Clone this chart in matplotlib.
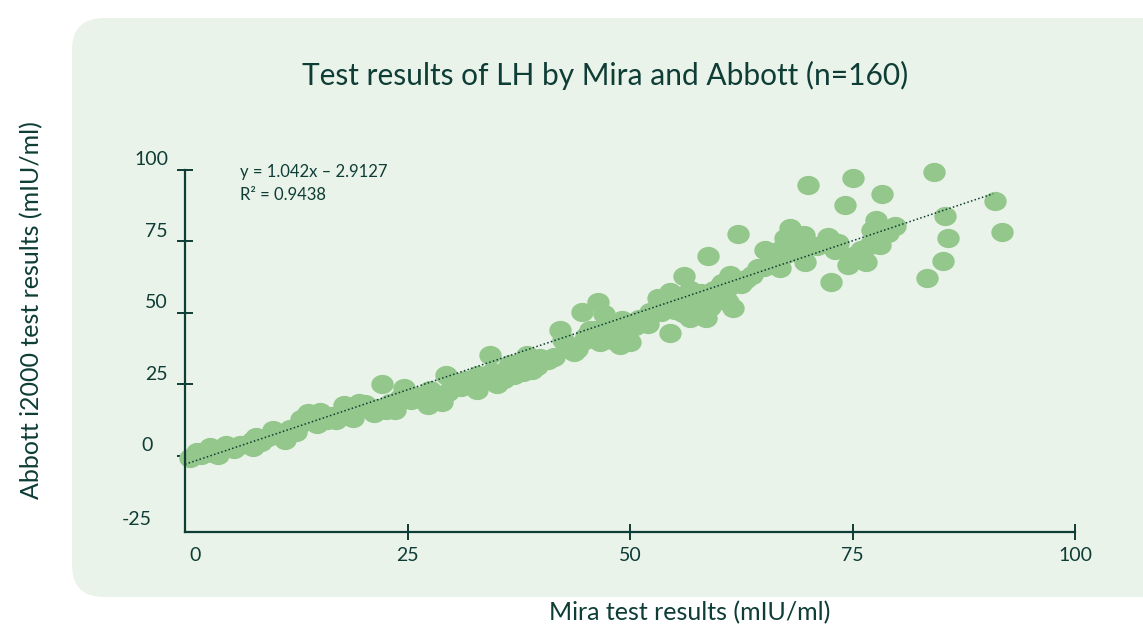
import numpy as np
import matplotlib.pyplot as plt
from matplotlib.patches import FancyBboxPatch
from matplotlib.path import Path
from matplotlib.transforms import IdentityTransform

# Mira vs Abbott LH results (n=160)
mira = [0.6, 1.3, 2.8, 3.7, 4.6, 6.2, 7.5, 7.6, 9.3, 9.9, 11.2, 12.5, 12.9, 13.8, 14.3,
        15.2, 16.0, 17.0, 17.9, 18.9, 19.6, 20.8, 21.6, 22.1, 22.6, 23.6, 24.2, 24.6, 25.4,
        27.3, 27.5, 28.9, 29.3, 30.0, 30.7, 31.6, 32.8, 32.9, 34.3, 34.5, 35.1, 36.1, 37.0,
        37.6, 38.4, 39.0, 39.9, 40.8, 42.1, 43.0, 43.7, 44.6, 44.9, 45.5, 46.4, 46.6, 47.1,
        47.8, 48.9, 49.1, 50.0, 50.6, 52.2, 53.1, 54.5, 54.5, 55.1, 56.1, 55.6, 56.7, 56.7,
        57.4, 57.9, 58.8, 58.8, 58.5, 59.4, 59.7, 60.3, 61.2, 61.6, 62.1, 63.7, 64.4, 65.2,
        66.9, 66.9, 67.4, 68.0, 69.1, 69.7, 70.0, 69.6, 72.2, 72.6, 73.4, 74.2, 74.5, 75.1,
        75.6, 76.5, 77.0, 77.2, 77.6, 78.1, 78.3, 79.8, 83.4, 84.2, 85.2, 85.4, 85.7, 91.0,
        91.8,
        1.8, 3.0, 5.5, 8.5, 10.5, 11.8, 14.8, 16.5, 18.2, 20.2, 21.2, 23.0, 26.0, 28.0, 29.5,
        31.0, 33.5, 35.8, 36.5, 38.0, 39.5, 41.5, 42.5, 44.0, 45.0, 46.0, 47.5, 48.0, 49.5,
        51.0, 52.0, 53.5, 54.0, 55.5, 56.0, 57.0, 58.0, 59.0, 60.0, 60.8, 61.0, 62.5, 63.0,
        65.0, 66.0, 67.5, 68.5, 69.0, 71.0, 73.0, 75.0, 76.0, 77.5, 79.0, 8.0, 13.0]
abbott = [-0.7, 1.4, 3.1, 0.3, 3.8, 3.8, 5.2, 3.1, 6.6, 9.1, 5.6, 8.4, 11.2, 15.0, 12.6,
          15.4, 12.6, 12.6, 17.8, 13.3, 18.5, 16.8, 16.8, 25.2, 16.1, 16.1, 20.3, 23.8, 19.6,
          17.8, 23.1, 18.9, 28.3, 24.1, 25.9, 26.6, 23.1, 28.3, 35.3, 29.4, 25.2, 30.1, 28.3,
          32.9, 35.3, 30.1, 34.3, 33.6, 44.1, 38.8, 36.4, 50.3, 40.6, 44.1, 53.8, 39.9, 49.7,
          42.3, 38.8, 47.6, 39.9, 45.5, 50.3, 55.2, 57.3, 43.0, 51.0, 62.9, 54.5, 58.0, 48.3,
          52.8, 49.3, 54.5, 69.9, 48.3, 58.0, 54.5, 60.5, 63.3, 51.7, 77.6, 63.3, 65.7, 72.0,
          65.7, 72.0, 76.2, 79.7, 73.8, 67.8, 94.8, 77.3, 76.6, 60.8, 74.5, 87.8, 66.8, 97.2,
          70.3, 67.8, 73.8, 79.0, 82.5, 73.8, 91.6, 80.4, 62.2, 99.3, 68.2, 83.9, 76.2, 89.2,
          78.3,
          0.5, 1.0, 2.5, 5.0, 7.5, 9.5, 11.0, 14.0, 15.5, 18.0, 15.0, 18.5, 21.0, 21.5, 22.5,
          24.0, 26.5, 27.0, 32.0, 29.5, 31.5, 34.5, 40.5, 37.5, 42.0, 44.0, 47.0, 40.5, 43.0,
          48.0, 46.0, 50.5, 53.5, 56.0, 50.0, 55.0, 57.0, 52.0, 56.5, 58.0, 54.0, 60.0, 62.0,
          66.0, 69.0, 70.5, 74.0, 71.0, 73.5, 72.0, 70.0, 72.0, 76.5, 78.0, 6.5, 13.0]

slope = 1.042
intercept = -2.9127
fit_x = [0, 90.8]

x_ticks = [25, 50, 75, 100]
x_labels = ['0', '25', '50', '75', '100']
y_ticks = [0, 25, 50, 75, 100]
y_labels = ['-25', '0', '25', '50', '75', '100']

dark = '#0e3d36'
green = '#93c78b'
panel = '#eaf3ea'

plt.rcParams['font.family'] = ['Lato', 'DejaVu Sans']

fig = plt.figure(figsize=(11.43, 6.31), dpi=100)

# rounded panel behind the chart (pixel coordinates)
panel_box = FancyBboxPatch((72, 631 - 597), 1120, 579, boxstyle='round,pad=0,rounding_size=32',
                           transform=IdentityTransform(), facecolor=panel, edgecolor='none',
                           zorder=-10)
fig.patches.append(panel_box)

ax = fig.add_axes([185 / 1143, 1 - 532 / 631, 890 / 1143, 362 / 631])
ax.patch.set_alpha(0)
ax.set_zorder(5)

# slightly flattened circle marker
circ = Path.unit_circle()
ell = Path(circ.vertices * np.array([1.0, 0.86]), circ.codes)

ax.scatter(mira, abbott, s=260, marker=ell, color=green, linewidths=0, zorder=2, clip_on=False)
fx = np.array(fit_x)
ax.plot(fx, slope * fx + intercept, linestyle=(0, (1, 1.5)), color=dark, lw=1.1, zorder=3)

ax.set_xlim(0, 100)
ax.set_ylim(-26.6, 100)
for s in ['top', 'right']:
    ax.spines[s].set_visible(False)
for s in ['left', 'bottom']:
    ax.spines[s].set_color(dark)
    ax.spines[s].set_linewidth(1.6)

ax.set_xticks(x_ticks)
ax.set_yticks(y_ticks)
ax.tick_params(direction='inout', length=11, width=1.4, color=dark)
ax.set_xticklabels([])
ax.set_yticklabels([])

# tick labels drawn as text
xl_pos = [1.1, 25, 50, 75, 100]
for v, lab in zip(xl_pos, x_labels):
    ax.text(v, -0.065, lab, transform=ax.get_xaxis_transform(), ha='center', va='center',
            fontsize=14, color=dark)
yl_pos = [-22.2, 3.5, 28.5, 53.5, 78.5, 103.5]
yl_x = [-0.037, -0.036, -0.019, -0.019, -0.019, -0.019]
for v, xx, lab in zip(yl_pos, yl_x, y_labels):
    ax.text(xx, v, lab, transform=ax.get_yaxis_transform(), ha='right', va='center',
            fontsize=14, color=dark)

ax.text(0.062, 0.995, 'y = 1.042x – 2.9127', transform=ax.transAxes, ha='left', va='center',
        fontsize=12, color=dark)
ax.text(0.062, 0.93, 'R² = 0.9438', transform=ax.transAxes, ha='left', va='center',
        fontsize=12, color=dark)

fig.text(605 / 1143, 1 - 75 / 631, 'Test results of LH by Mira and Abbott (n=160)',
         ha='center', va='center', fontsize=21.5, color=dark)
fig.text(690 / 1143, 1 - 613 / 631, 'Mira test results (mIU/ml)', ha='center', va='center',
         fontsize=18, color=dark)
fig.text(32 / 1143, 1 - 310 / 631, 'Abbott i2000 test results (mIU/ml)', ha='center', va='center',
         rotation=90, fontsize=18, color=dark)

fig.savefig('out.png', dpi=100)
